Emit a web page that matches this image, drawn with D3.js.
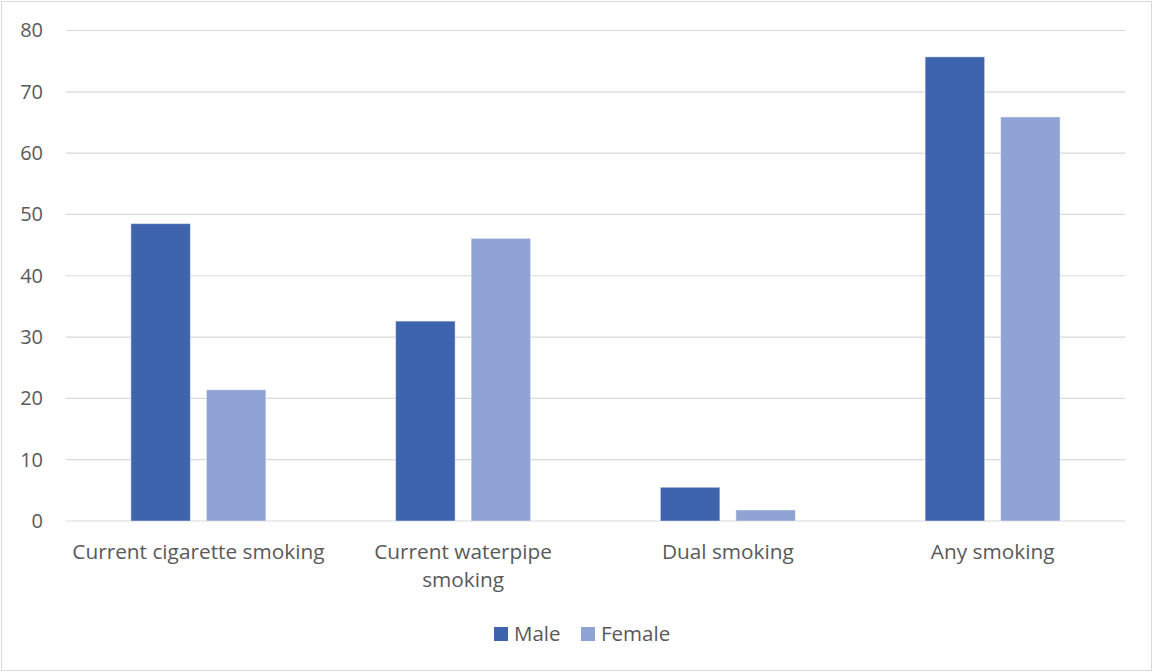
<!DOCTYPE html>
<html lang="en">
<head>
    <meta charset="UTF-8">
    <title>Smoking by sex</title>
    <script src="https://d3js.org/d3.v7.min.js"></script>
    <style>
        body { margin: 0; background: #fff; }
        text { font-family: "Open Sans", "Noto Sans", sans-serif; fill: #595959; }
    </style>
</head>
<body>
    <script>
        var width = 1153;
        var height = 672;

        // data
        var categories = ["Current cigarette smoking", "Current waterpipe smoking", "Dual smoking", "Any smoking"];
        var series = ["Male", "Female"];
        var male = [48.5, 32.6, 5.5, 75.7];
        var female = [21.4, 46.1, 1.8, 65.9];
        var yTicks = [0, 10, 20, 30, 40, 50, 60, 70, 80];
        var colors = ["#3d64ad", "#8fa3d4"];

        var plot = {left: 66, right: 1125, top: 30.5, bottom: 521};
        var fontSize = 20;

        var svg = d3.select("body").append("svg")
            .attr("width", width)
            .attr("height", height)

        // outer frame
        svg.append("rect")
            .attr("x", 1.5).attr("y", 1.5)
            .attr("width", width - 3).attr("height", height - 3)
            .attr("fill", "#fff")
            .attr("stroke", "#d9d9d9")
            .attr("stroke-width", 1)

        var x0 = d3.scaleBand().domain(categories).range([plot.left, plot.right]).padding(0)
        var pairW = 135
        var x1 = d3.scaleBand().domain(series)
            .range([(x0.bandwidth() - pairW) / 2, (x0.bandwidth() + pairW) / 2])
            .paddingInner(0.212).paddingOuter(0)

        var y = d3.scaleLinear().domain([0, 80]).range([plot.bottom, plot.top])

        // gridlines
        svg.append("g")
            .selectAll("line")
            .data(yTicks)
            .join("line")
            .attr("x1", plot.left).attr("x2", plot.right)
            .attr("y1", d => y(d)).attr("y2", d => y(d))
            .attr("stroke", "#d9d9d9")
            .attr("stroke-width", 1.2)

        // y axis labels
        var yAxis = d3.axisLeft(y).tickValues(yTicks).tickSize(0).tickPadding(0)
        var gy = svg.append("g")
            .attr("transform", "translate(43,0)")
            .call(yAxis)
        gy.select(".domain").remove()
        gy.selectAll("text")
            .attr("font-size", fontSize)
            .style("font-family", null)
            .attr("fill", "#595959")

        // bars
        var rows = categories.map((c, i) => ({cat: c, values: [male[i], female[i]]}))
        var groups = svg.append("g")
            .selectAll("g")
            .data(rows)
            .join("g")
            .attr("transform", d => "translate(" + x0(d.cat) + ",0)")

        groups.selectAll("rect")
            .data(d => d.values.map((v, j) => ({key: series[j], v: v, j: j})))
            .join("rect")
            .attr("x", d => x1(d.key))
            .attr("y", d => y(d.v))
            .attr("width", x1.bandwidth())
            .attr("height", d => y(0) - y(d.v))
            .attr("fill", d => colors[d.j])
            .attr("stroke", "#fff")
            .attr("stroke-opacity", 0.45)
            .attr("stroke-width", 1)

        // category labels (wrap the long one like the original)
        var labelLines = {"Current waterpipe smoking": ["Current waterpipe", "smoking"]}
        svg.append("g")
            .selectAll("text")
            .data(categories)
            .join("text")
            .attr("x", d => x0(d) + x0.bandwidth() / 2)
            .attr("y", 559)
            .attr("text-anchor", "middle")
            .attr("font-size", 20.8)
            .each(function (d) {
                var lines = labelLines[d] || [d]
                d3.select(this).selectAll("tspan")
                    .data(lines)
                    .join("tspan")
                    .attr("x", x0(d) + x0.bandwidth() / 2)
                    .attr("dy", (l, i) => i === 0 ? 0 : 28)
                    .text(l => l)
            })

        // legend
        var legendX = [494, 581]
        var leg = svg.append("g")
            .selectAll("g")
            .data(series)
            .join("g")
            .attr("transform", (d, i) => "translate(" + legendX[i] + ",627)")
        leg.append("rect")
            .attr("width", 14).attr("height", 14)
            .attr("fill", (d, i) => colors[i])
        leg.append("text")
            .attr("x", 20).attr("y", 14)
            .attr("font-size", 20.5)
            .text(d => d)
    </script>
</body>
</html>
